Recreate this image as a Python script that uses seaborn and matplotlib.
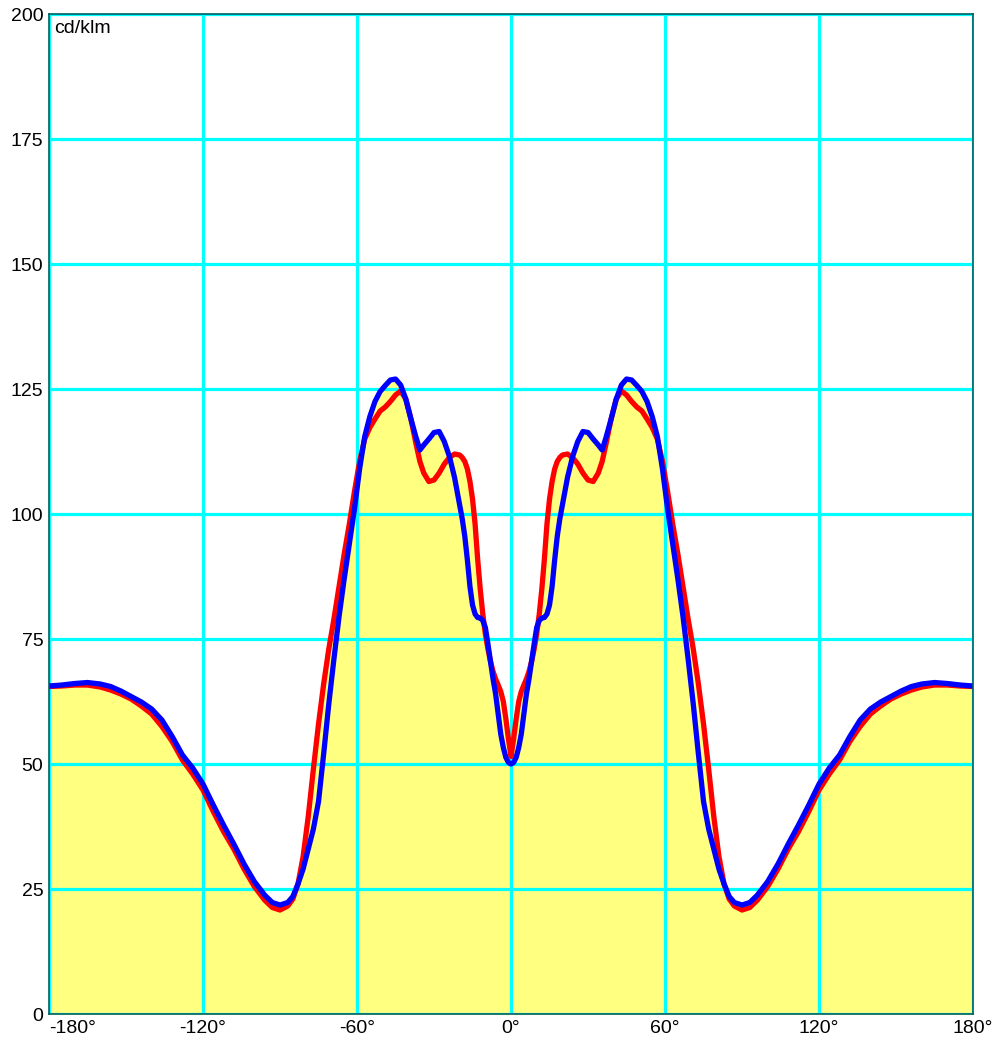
import seaborn as sns
import matplotlib.pyplot as plt
import pandas as pd
import numpy as np

# half curves (0..180 deg), the chart is mirrored around 0
angles = [0, 1, 2, 3, 4, 5, 6, 7, 8, 9, 10, 11, 12, 13, 14, 15, 16, 17, 18, 19, 20,
          22, 24, 26, 28, 30, 32, 34, 35.5, 37, 39, 41, 43, 45, 47, 49, 51, 53, 55,
          57, 59, 61, 63, 65, 67, 69, 71, 73, 75, 77, 79, 81, 83, 85, 87, 90, 93, 96,
          100, 104, 108, 112, 116, 120, 124, 128, 132, 136, 140, 144, 148, 152, 156,
          160, 165, 170, 175, 180]
red_half = [51.5, 55, 59, 62.5, 64.5, 65.8, 67, 68.5, 70.5, 73, 76, 80, 85, 91, 98, 103,
            106.5, 109, 110.5, 111.3, 111.8, 112, 111.3, 110, 108.2, 106.8, 106.5, 108.2,
            110.5, 114, 119, 123, 124.6, 123.8, 122.5, 121.4, 120.6, 119, 117.3, 115,
            110.5, 104.5, 98, 92, 85.5, 79, 73, 66, 58, 49, 39.5, 31.5, 26, 23, 21.6,
            20.8, 21.3, 22.8, 25.5, 29, 33, 36.5, 40.5, 44.8, 48, 50.8, 54.5, 57.5, 60,
            61.6, 63, 64, 64.8, 65.4, 65.8, 65.8, 65.6, 65.5]
blue_half = [50, 50.3, 51.3, 53.3, 56, 60, 64, 67, 70.5, 74, 77.3, 78.7, 79.2, 79.3, 80,
             81.8, 85.5, 90.8, 95.5, 99, 101.8, 107.3, 111.5, 114.5, 116.5, 116.3, 115,
             113.8, 112.8, 115.3, 119, 123, 125.8, 127, 126.8, 125.7, 124.5, 122.5, 119.5,
             115.5, 109, 101, 94, 87, 79.5, 71, 62, 52, 42.5, 37, 33, 29, 26, 23.5, 22.3,
             21.8, 22.3, 23.8, 26.5, 30, 34, 37.8, 41.8, 46, 49.2, 51.8, 55.5, 58.8, 61,
             62.4, 63.5, 64.6, 65.5, 66, 66.3, 66.1, 65.8, 65.6]
xticks = [-180, -120, -60, 0, 60, 120, 180]
yticks = [0, 25, 50, 75, 100, 125, 150, 175, 200]

a = np.array(angles)
deg = np.concatenate([-a[::-1], a[1:]])
red = np.concatenate([np.array(red_half)[::-1], np.array(red_half)[1:]])
blue = np.concatenate([np.array(blue_half)[::-1], np.array(blue_half)[1:]])
df = pd.DataFrame({'deg': deg, 'red': red, 'blue': blue})

sns.set_style('white')
plt.rcParams['font.family'] = ['Liberation Sans', 'DejaVu Sans']
plt.rcParams['text.color'] = 'black'

fig = plt.figure(figsize=(9.98, 10.38), dpi=100)
ax = fig.add_axes([0.0491, 0.0231, 0.9259, 0.9634])

ax.fill_between(df['deg'], np.maximum(df['red'], df['blue']), color='#FFFF80', lw=0, zorder=1)
for v in xticks:
    ax.axvline(v, color='#00FFFF', lw=2.3, zorder=2)
for v in yticks:
    ax.axhline(v, color='#00FFFF', lw=2.3, zorder=2)

sns.lineplot(data=df, x='deg', y='red', color='#FF0000', lw=3.8, sort=False, ax=ax, zorder=3,
             solid_joinstyle='round', solid_capstyle='round')
sns.lineplot(data=df, x='deg', y='blue', color='#0000FF', lw=3.8, sort=False, ax=ax, zorder=4,
             solid_joinstyle='round', solid_capstyle='round')

ax.set_xlim(-180, 180)
ax.set_ylim(0, 200)
ax.set_xticks(xticks)
ax.set_xticklabels([f'{v}°' for v in xticks], fontsize=14)
ax.get_xticklabels()[0].set_horizontalalignment('left')
ax.set_yticks(yticks)
ax.set_yticklabels([str(v) for v in yticks], fontsize=14)
ax.tick_params(length=0, pad=4, labelcolor='black')
ax.set_xlabel('')
ax.set_ylabel('')
for s in ax.spines.values():
    s.set_color('#006060')
    s.set_linewidth(1.2)
    s.set_zorder(5)
ax.text(0.006, 0.994, 'cd/klm', transform=ax.transAxes, ha='left', va='top', fontsize=14,
        color='black', zorder=6)

fig.savefig('out.png', dpi=100)
